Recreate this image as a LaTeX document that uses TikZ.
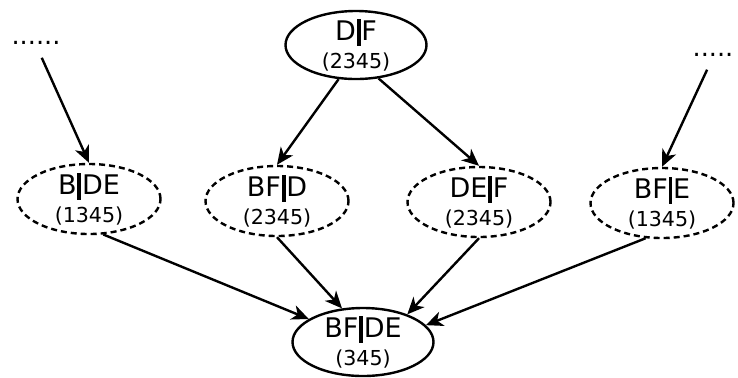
\documentclass[tikz,border=0pt]{standalone}
\usepackage{fontspec}
\setmainfont{DejaVu Sans}
\usetikzlibrary{arrows.meta,shapes.geometric}
\newcommand{\sepbar}{\kern.4pt\rule[-2.5pt]{1.9pt}{13.5pt}\kern.4pt}
\newcommand{\seplab}[3]{#1\sepbar#2\\{\fontsize{10.3}{12}\selectfont(#3)}}
\tikzset{
  state/.style={ellipse,draw,line width=1.2pt,minimum width=70.5pt,minimum height=34pt,
                inner sep=0pt,inner ysep=-2pt,align=center,font=\fontsize{13.5}{14}\selectfont},
  cand/.style={state,dash pattern=on 3pt off 2pt,minimum width=71.5pt,minimum height=35pt},
  dots/.style={inner sep=0pt,font=\fontsize{12.8}{14}\selectfont},
  arrow/.style={-{Stealth[length=8.5pt,width=7.5pt,inset=2.5pt]},line width=1.2pt}
}
\begin{document}
\begin{tikzpicture}[x=0.5pt,y=-0.5pt]
  \useasboundingbox (0,0) rectangle (738,377);
  \node[state] (df) at (356,45) {\seplab{D}{F}{2345}};
  \node[dots] (dotsL) at (36,43) {......};
  \node[dots] (dotsR) at (713,55) {.....};

  \node[cand] (bde) at (89,199) {\seplab{B}{DE}{1345}};
  \node[cand] (bfd) at (277,201) {\seplab{BF}{D}{2345}};
  \node[cand] (def) at (479,202) {\seplab{DE}{F}{2345}};
  \node[cand] (bfe) at (662,203) {\seplab{BF}{E}{1345}};

  \node[state] (bfde) at (363,342) {\seplab{BF}{DE}{345}};

  \draw[arrow,shorten <=7pt] (dotsL.south) -- (bde.north);
  \draw[arrow] (df.243) -- (bfd.north);
  \draw[arrow] (df.304) -- (def.north);
  \draw[arrow,shorten <=7pt] (dotsR.south) -- (bfe.north);

  \draw[arrow] (bde.292) -- (bfde.157);
  \draw[arrow] (bfd.south) -- (bfde.122);
  \draw[arrow] (def.south) -- (bfde.32);
  \draw[arrow] (bfe.245) -- (bfde.15);
\end{tikzpicture}
\end{document}
